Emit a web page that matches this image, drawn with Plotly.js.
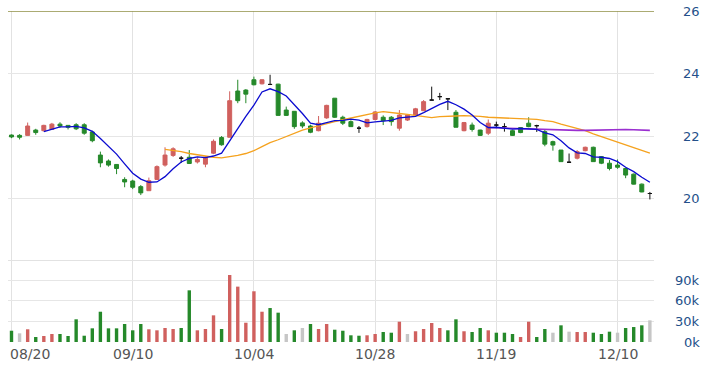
<!DOCTYPE html>
<html>
<head>
<meta charset="utf-8">
<script src="https://cdn.plot.ly/plotly-3.0.1.min.js"></script>
<style>
html,body{margin:0;padding:0;background:#fff;}
#chart{width:716px;height:372px;}
</style>
</head>
<body>
<div id="chart"></div>
<script>
// ---- data (trading-day index 0..79) ----
const openP  = [22.03,22.02,22.02,22.19,22.17,22.21,22.38,22.34,22.36,22.36,
                22.13,21.39,21.20,21.09,20.61,20.56,20.38,20.25,20.61,21.07,
                21.38,21.29,21.32,21.17,21.10,21.45,21.95,21.96,23.44,23.47,
                23.80,23.67,23.65,23.66,22.83,22.79,22.42,22.32,22.17,22.58,
                23.21,22.60,22.46,22.25,22.30,22.53,22.60,22.60,22.25,22.51,
                22.67,22.81,23.15,23.26,23.19,22.76,22.17,22.35,22.19,22.09,
                22.35,22.30,22.17,22.27,22.41,22.33,22.14,21.82,21.55,21.16,
                21.29,21.53,21.64,21.34,21.13,21.07,20.96,20.78,20.46,20.16];
const highP  = [22.05,22.06,22.43,22.23,22.36,22.42,22.44,22.35,22.41,22.41,
                22.17,21.50,21.25,21.10,20.68,20.60,20.43,20.67,21.06,21.64,
                21.64,21.36,21.55,21.31,21.36,21.89,22.00,23.43,23.80,23.50,
                23.90,23.82,23.96,23.67,22.94,22.80,22.47,22.36,22.64,23.00,
                23.21,22.65,22.50,22.32,22.55,22.80,22.66,22.64,22.83,22.70,
                22.90,23.15,23.58,23.38,23.19,22.83,22.45,22.43,22.20,22.53,
                22.46,22.41,22.20,22.28,22.60,22.36,22.20,21.85,21.55,21.44,
                21.55,21.66,21.66,21.36,21.23,21.25,20.98,20.80,20.48,20.21];
const lowP   = [21.93,21.89,22.02,22.04,22.15,22.20,22.26,22.21,22.19,22.04,
                21.80,21.00,21.02,20.78,20.36,20.30,20.11,20.25,20.60,21.02,
                21.33,21.14,21.12,21.12,21.00,21.42,21.69,21.96,23.05,23.05,
                23.62,23.65,23.63,22.66,22.64,22.23,22.25,22.09,22.15,22.55,
                22.58,22.35,22.30,22.10,22.27,22.50,22.35,22.33,22.17,22.48,
                22.65,22.80,23.15,23.15,22.83,22.28,22.15,22.14,22.00,22.03,
                22.25,22.14,22.00,22.09,22.28,22.13,21.67,21.53,21.18,21.16,
                21.25,21.51,21.18,21.10,20.90,20.95,20.65,20.45,20.20,19.97];
const closeP = [21.97,21.96,22.32,22.11,22.34,22.38,22.32,22.28,22.23,22.09,
                21.85,21.14,21.07,20.96,20.53,20.36,20.18,20.57,21.02,21.39,
                21.59,21.29,21.12,21.25,21.32,21.83,21.72,23.13,23.13,23.34,
                23.64,23.80,23.65,22.66,22.66,22.30,22.32,22.12,22.41,22.98,
                22.60,22.41,22.30,22.25,22.53,22.77,22.49,22.46,22.67,22.67,
                22.87,23.10,23.15,23.26,23.19,22.28,22.43,22.21,22.02,22.41,
                22.35,22.30,22.02,22.11,22.30,22.33,21.74,21.71,21.18,21.16,
                21.50,21.64,21.18,21.13,20.96,21.00,20.75,20.46,20.21,20.16];

// moving-average lines (start at day 4, 19 and 59)
const ma5  = [22.14,22.22,22.29,22.29,22.31,22.26,22.15,21.92,21.68,21.42,
              21.11,20.81,20.62,20.52,20.53,20.70,20.95,21.17,21.28,21.33,
              21.31,21.36,21.45,21.85,22.23,22.63,22.99,23.41,23.51,23.42,
              23.28,23.01,22.72,22.41,22.36,22.43,22.49,22.50,22.54,22.51,
              22.42,22.45,22.47,22.50,22.58,22.61,22.63,22.75,22.89,23.01,
              23.11,23.00,22.86,22.67,22.43,22.27,22.28,22.26,22.22,22.24,
              22.22,22.21,22.10,22.04,21.85,21.62,21.46,21.44,21.33,21.32,
              21.28,21.18,21.00,20.86,20.68,20.52];
const ma20 = [21.57,21.54,21.50,21.44,21.40,21.35,21.32,21.30,21.33,21.38,
              21.44,21.53,21.66,21.79,21.88,21.98,22.08,22.19,22.26,22.33,
              22.41,22.46,22.52,22.58,22.63,22.69,22.74,22.78,22.74,22.72,
              22.69,22.65,22.61,22.59,22.62,22.64,22.64,22.65,22.65,22.63,
              22.60,22.59,22.59,22.57,22.57,22.55,22.53,22.49,22.46,22.38,
              22.31,22.24,22.17,22.07,21.98,21.90,21.82,21.73,21.64,21.55,
              21.45];
const ma60 = [22.27,22.26,22.25,22.24,22.23,22.23,22.22,22.21,22.20,22.19,
              22.18,22.18,22.18,22.19,22.19,22.20,22.20,22.21,22.20,22.19,
              22.18];

const volume = [16500,12700,18600,7300,8800,11700,11700,8800,33200,9200,
                20000,44300,20000,20000,26300,17100,26300,18600,17100,20500,
                19000,20500,75600,17100,19000,39000,19000,98000,81000,28200,
                74200,44300,49700,42900,11700,17100,20500,26300,19000,26300,
                18000,16500,9800,9200,9800,11700,14600,13600,29700,11700,
                15700,19000,27800,20500,17100,33200,15700,14600,20500,17100,
                13600,13600,11700,7300,29700,7300,19000,13600,24400,15100,
                14600,14600,13600,11700,15100,13600,20500,21900,24400,31700];
// volume bar direction: u = up (red), d = down (green), n = unchanged (grey)
const volDir = ['d','n','u','d','u','u','d','d','d','d',
                'd','d','d','d','d','d','d','u','u','u',
                'u','d','d','u','u','u','d','u','u','u',
                'u','u','d','d','n','d','n','d','u','u',
                'd','d','d','d','u','u','d','d','u','n',
                'u','u','u','u','d','d','u','d','d','u',
                'd','d','d','u','u','d','d','n','d','n',
                'u','u','d','d','d','n','d','d','d','n'];

const xTickIdx    = [0, 15, 30, 45, 60, 75];
const xTickLabels = ['08/20','09/10','10/04','10/28','11/19','12/10'];
const priceTicks  = [20, 22, 24, 26];
const volTicks    = [0, 30000, 60000, 90000];
const volTickLabels = ['0k','30k','60k','90k'];

// ---- styling ----
const RED = '#d0605e', GREEN = '#25892a', GREY = '#c6c6c6', BLACK = '#111111';
const idx = openP.map((_, i) => i);

function candleSubset(test, color) {
  const sel = idx.filter(i => test(openP[i], closeP[i]));
  return {
    type: 'candlestick',
    x: sel,
    open: sel.map(i => openP[i]), high: sel.map(i => highP[i]),
    low: sel.map(i => lowP[i]), close: sel.map(i => closeP[i]),
    increasing: {line: {color: color, width: 1}, fillcolor: color},
    decreasing: {line: {color: color, width: 1}, fillcolor: color},
    whiskerwidth: 0, hoverinfo: 'skip', showlegend: false,
    xaxis: 'x', yaxis: 'y'
  };
}

const traces = [
  candleSubset((o, c) => c > o, RED),
  candleSubset((o, c) => c < o, GREEN),
  candleSubset((o, c) => c === o, BLACK),
  {type: 'scatter', mode: 'lines', x: idx.slice(19), y: ma20,
   line: {color: '#f5a21e', width: 1.3}, hoverinfo: 'skip', showlegend: false},
  {type: 'scatter', mode: 'lines', x: idx.slice(59), y: ma60,
   line: {color: '#9a2fd0', width: 1.6}, hoverinfo: 'skip', showlegend: false},
  {type: 'scatter', mode: 'lines', x: idx.slice(4), y: ma5,
   line: {color: '#0b0bd0', width: 1.3}, hoverinfo: 'skip', showlegend: false},
  {type: 'bar', x: idx, y: volume, width: 0.42,
   marker: {color: volDir.map(d => d === 'u' ? RED : d === 'd' ? GREEN : GREY)},
   hoverinfo: 'skip', showlegend: false, xaxis: 'x', yaxis: 'y2'}
];

const annotations = [];
xTickIdx.forEach((v, k) => annotations.push({
  x: v, xref: 'x', y: -0.036, yref: 'paper', text: xTickLabels[k],
  showarrow: false, xanchor: k === 0 ? 'left' : 'center', yanchor: 'middle',
  xshift: k === 0 ? -4 : 0,
  font: {family: 'DejaVu Sans', size: 14, color: '#555555'}
}));
priceTicks.forEach(v => annotations.push({
  x: 1.0743, xref: 'paper', y: v, yref: 'y', text: String(v),
  showarrow: false, xanchor: 'right', yanchor: 'middle',
  font: {family: 'DejaVu Sans', size: 13, color: '#24508a'}
}));
volTicks.forEach((v, k) => annotations.push({
  x: 1.0743, xref: 'paper', y: v, yref: 'y2', text: volTickLabels[k],
  showarrow: false, xanchor: 'right', yanchor: 'middle',
  font: {family: 'DejaVu Sans', size: 13, color: '#24508a'}
}));

const layout = {
  width: 716, height: 372,
  margin: {l: 8, r: 62, t: 11, b: 30},
  paper_bgcolor: '#ffffff', plot_bgcolor: '#ffffff',
  showlegend: false, dragmode: false,
  boxgap: 0.3, boxgroupgap: 0.3,
  xaxis: {range: [-0.433, 79.51], tickvals: xTickIdx, showticklabels: false,
          showgrid: true, gridcolor: '#e2e2e2', zeroline: false, showline: false,
          ticks: '', rangeslider: {visible: false}, fixedrange: true},
  yaxis: {domain: [0.2447, 1], range: [18, 26], tickvals: [20, 22, 24],
          showticklabels: false, showgrid: true, gridcolor: '#e6e6e6',
          zeroline: false, showline: false, ticks: '', fixedrange: true},
  yaxis2: {domain: [0, 0.2447], range: [0, 118500], tickvals: [30000, 60000, 90000],
           showticklabels: false, showgrid: true, gridcolor: '#e6e6e6',
           zeroline: false, showline: false, ticks: '', fixedrange: true},
  shapes: [
    {type: 'line', xref: 'paper', x0: 0, x1: 1, yref: 'y', y0: 18, y1: 18,
     layer: 'below', line: {color: '#e2e2e2', width: 2}},
    {type: 'line', xref: 'paper', x0: 0, x1: 1, yref: 'y', y0: 26, y1: 26,
     line: {color: '#8f8f45', width: 1.3}}
  ],
  annotations: annotations
};

Plotly.newPlot('chart', traces, layout, {displayModeBar: false, staticPlot: true});
</script>
</body>
</html>
